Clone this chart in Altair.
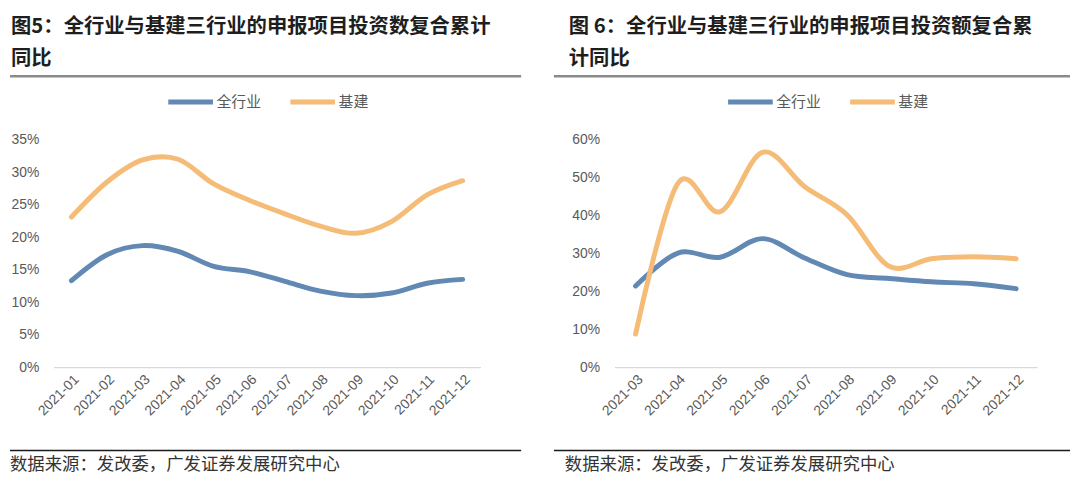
import altair as alt
import pandas as pd

# ---------------- data ----------------
series_names = ["全行业", "基建"]
series_colors = ["#6189b3", "#f4bc77"]

months_5 = ["2021-01", "2021-02", "2021-03", "2021-04", "2021-05", "2021-06",
            "2021-07", "2021-08", "2021-09", "2021-10", "2021-11", "2021-12"]
all_5 = [13.3, 17.3, 18.7, 17.8, 15.5, 14.7, 13.2, 11.7, 11.0, 11.4, 12.9, 13.5]
infra_5 = [23.1, 28.5, 31.9, 32.0, 28.2, 25.7, 23.6, 21.7, 20.6, 22.4, 26.5, 28.7]
y_ticks_5 = [0, 5, 10, 15, 20, 25, 30, 35]

months_6 = ["2021-03", "2021-04", "2021-05", "2021-06", "2021-07",
            "2021-08", "2021-09", "2021-10", "2021-11", "2021-12"]
all_6 = [21.4, 30.1, 29.0, 33.9, 28.8, 24.4, 23.4, 22.5, 22.0, 20.7]
infra_6 = [8.7, 48.5, 41.0, 56.7, 47.6, 40.2, 26.6, 28.6, 29.1, 28.6]
y_ticks_6 = [0, 10, 20, 30, 40, 50, 60]

title_5 = ["图5：全行业与基建三行业的申报项目投资数复合累计", "同比"]
title_6 = ["图 6：全行业与基建三行业的申报项目投资额复合累", "计同比"]
source_text = "数据来源：发改委，广发证券发展研究中心"

CJK = "Noto Sans CJK SC"
LAT = "Liberation Sans"
H = 229


def panel(months, a_vals, b_vals, titles, yticks, W, title_x, rule_x0, rule_x1,
          legend_x, source_x):
    df = pd.DataFrame({
        "month": months + months,
        "value": a_vals + b_vals,
        "series": [series_names[0]] * len(months) + [series_names[1]] * len(months),
    })
    one = pd.DataFrame({"k": [0]})

    lines = alt.Chart(df).mark_line(
        interpolate="cardinal", strokeWidth=5, strokeCap="round", strokeJoin="round"
    ).encode(
        x=alt.X("month:O", sort=months, scale=alt.Scale(padding=0.5),
                axis=alt.Axis(title=None, labelAngle=-45, labelFont=LAT,
                              labelFontSize=14, labelColor="#595959",
                              ticks=False, domainColor="#d9d9d9",
                              domainWidth=1.2, labelPadding=5)),
        y=alt.Y("value:Q",
                scale=alt.Scale(domain=[yticks[0], yticks[-1]], nice=False),
                axis=alt.Axis(title=None, values=yticks,
                              labelExpr="datum.value + '%'", grid=False,
                              domain=False, ticks=False, labelFont=LAT,
                              labelFontSize=14, labelColor="#595959",
                              labelPadding=15)),
        color=alt.Color("series:N",
                        scale=alt.Scale(domain=series_names, range=series_colors),
                        legend=alt.Legend(title=None, orient="none",
                                          legendX=legend_x, legendY=-63,
                                          direction="horizontal",
                                          symbolType="stroke",
                                          symbolStrokeWidth=5,
                                          symbolSize=2025,
                                          labelFont=CJK, labelFontSize=15,
                                          labelColor="#595959",
                                          labelOffset=1, columnPadding=18,
                                          padding=0)),
    )

    anchor = alt.Chart(one).mark_rule(color="#ffffff", strokeWidth=1,
                                      strokeOpacity=0).encode(
        x=alt.value(rule_x0), x2=alt.value(rule_x1), y=alt.value(-131))

    t1 = alt.Chart(one).mark_text(
        text=titles[0], align="left", baseline="middle", font=CJK,
        fontSize=20.5, fontWeight="bold", color="#1e1e1e"
    ).encode(x=alt.value(title_x), y=alt.value(-114))
    t2 = alt.Chart(one).mark_text(
        text=titles[1], align="left", baseline="middle", font=CJK,
        fontSize=20.5, fontWeight="bold", color="#1e1e1e"
    ).encode(x=alt.value(title_x), y=alt.value(-81))

    top_rule = alt.Chart(one).mark_rule(color="#8a8a8a", strokeWidth=2.5).encode(
        x=alt.value(rule_x0), x2=alt.value(rule_x1), y=alt.value(-64))
    bottom_rule = alt.Chart(one).mark_rule(color="#1a1a1a", strokeWidth=1.5).encode(
        x=alt.value(rule_x0), x2=alt.value(rule_x1), y=alt.value(313))

    src = alt.Chart(one).mark_text(
        text=source_text, align="left", baseline="middle", font=CJK,
        fontSize=17.5, color="#333333"
    ).encode(x=alt.value(source_x), y=alt.value(328))

    return alt.layer(anchor, top_rule, bottom_rule, t1, t2, src, lines).properties(
        width=W, height=H)


left = panel(months_5, all_5, infra_5, title_5, y_ticks_5, 430,
             title_x=-43, rule_x0=-44, rule_x1=471, legend_x=113, source_x=-44)
right = panel(months_6, all_6, infra_6, title_6, y_ticks_6, 426,
              title_x=-46, rule_x0=-61, rule_x1=459, legend_x=112, source_x=-50)

chart = alt.hconcat(left, right, spacing=29).resolve_scale(
    color="independent"
).resolve_legend(
    color="independent"
).properties(
    padding=0, background="#ffffff"
).configure_view(stroke=None)

chart.save("out.html", embed_options={"renderer": "svg", "actions": False})
